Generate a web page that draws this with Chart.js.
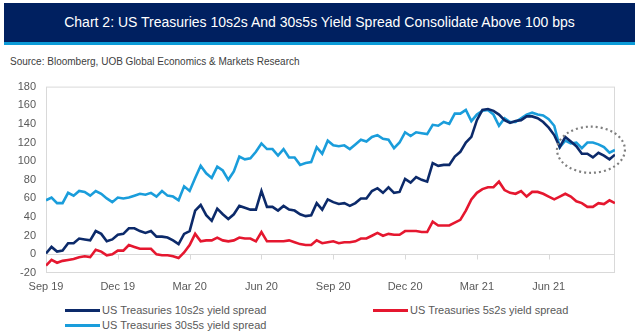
<!DOCTYPE html>
<html>
<head>
<meta charset="utf-8">
<script src="https://cdn.jsdelivr.net/npm/chart.js@4.4.0/dist/chart.umd.min.js"></script>
<style>
body { margin: 0; width: 639px; height: 335px; background: #fff; position: relative; overflow: hidden;
       font-family: 'Liberation Sans', Arial, sans-serif; }
#title { position: absolute; left: 4px; top: 3px; width: 631px; height: 39px; background: #002060;
         border-bottom: 3px solid #0b9bd8; color: #fff; font-size: 14px; line-height: 39px; text-align: center; }
#source { position: absolute; left: 10px; top: 56px; font-size: 10px; line-height: 12px; color: #404040; }
#wrap { position: absolute; left: 0; top: 70px; width: 639px; height: 230px; }
.item { position: absolute; font-size: 11px; line-height: 14px; color: #595959; white-space: nowrap; }
.item i { display: inline-block; width: 35px; height: 3px; vertical-align: middle; margin: -2px 2px 0 0; }
</style>
</head>
<body>
<div id="title">Chart 2: US Treasuries 10s2s And 30s5s Yield Spread Consolidate Above 100 bps</div>
<div id="source">Source: Bloomberg, UOB Global Economics &amp; Markets Research</div>
<div id="wrap"><canvas id="chart"></canvas></div>
<div id="legend"></div>
<script>
// weekly observations, Sep 2019 - Aug 2021 (bps)
const tickLabels = ['Sep 19', 'Dec 19', 'Mar 20', 'Jun 20', 'Sep 20', 'Dec 20', 'Mar 21', 'Jun 21'];
const tickWeeks = [0, 13, 26, 39, 52, 65, 78, 91];

const spread10s2s = [1, 8, 3, 4, 12, 12, 17, 16, 15, 25, 22, 14, 16, 21, 22, 28, 28, 25, 23, 25, 19, 19, 18, 15, 11, 22, 25,
    47, 53, 42, 36, 49, 43, 38, 43, 52, 50, 48, 48, 68, 51, 51, 47, 52, 48, 47, 43, 41, 42, 55, 48,
    59, 56, 54, 55, 52, 55, 60, 60, 68, 71, 66, 72, 66, 67, 81, 77, 83, 80, 78, 98, 95, 96, 96, 105, 110, 120, 126,
    144, 155, 156, 154, 150, 144, 141, 143, 144, 148, 148, 146, 142, 136, 128, 115, 126, 121, 116, 108, 108, 104, 109, 106, 102, 107];

const spread5s2s = [-12, -6, -9, -7, -6, -5, -3, -2, -3, 5, 3, -1, 0, 4, 4, 10, 8, 6, 6, 6, 0, -1, -1, -2, -4, 2, 10,
    22, 14, 15, 15, 18, 15, 14, 15, 18, 17, 17, 14, 24, 14, 14, 14, 14, 15, 13, 11, 10, 10, 15, 12,
    13, 14, 12, 13, 13, 14, 17, 17, 20, 23, 20, 22, 21, 21, 25, 25, 25, 24, 24, 35, 31, 31, 31, 34, 37, 47, 59,
    66, 70, 72, 72, 78, 69, 66, 65, 68, 62, 67, 67, 65, 62, 59, 62, 65, 62, 57, 55, 51, 51, 55, 54, 58, 55];

const spread30s5s = [58, 61, 55, 55, 66, 63, 68, 67, 63, 68, 65, 60, 56, 61, 60, 61, 63, 65, 64, 66, 62, 68, 63, 62, 58, 73, 68,
    82, 95, 87, 82, 94, 90, 80, 89, 105, 102, 103, 110, 119, 113, 113, 106, 113, 104, 104, 96, 98, 99, 115, 108,
    122, 117, 116, 117, 113, 118, 123, 121, 126, 128, 124, 123, 114, 120, 131, 127, 131, 130, 129, 139, 138, 142, 140, 151, 151, 155, 143,
    150, 154, 155, 150, 138, 146, 142, 142, 146, 150, 152, 150, 149, 145, 138, 115, 122, 119, 120, 114, 120, 120, 118, 115, 109, 112];

const FONT = "'Liberation Sans', Arial, sans-serif";

function toPoints(values) {
    return values.map((v, i) => ({x: i, y: v}));
}

const datasets = [
    {label: 'US Treasuries 10s2s yield spread', data: toPoints(spread10s2s), borderColor: '#0c2a6a'},
    {label: 'US Treasuries 5s2s yield spread', data: toPoints(spread5s2s), borderColor: '#e5172f'},
    {label: 'US Treasuries 30s5s yield spread', data: toPoints(spread30s5s), borderColor: '#1a9ddb'}
];
datasets.forEach(d => {
    d.borderWidth = 2.6;
    d.pointRadius = 0;
    d.tension = 0;
    d.fill = false;
});

// plot frame, zero line with its tick marks, dotted ring round the latest weeks
const framePlugin = {
    id: 'frame',
    beforeDatasetsDraw(chart) {
        const {ctx, chartArea: a, scales: {x, y}} = chart;
        ctx.save();
        ctx.strokeStyle = '#d9d9d9';
        ctx.lineWidth = 1;
        ctx.strokeRect(a.left + 0.5, a.top + 0.5, a.width - 1, a.height - 1);
        const y0 = Math.round(y.getPixelForValue(0)) + 0.5;
        ctx.beginPath();
        ctx.moveTo(a.left, y0);
        ctx.lineTo(a.right, y0);
        tickWeeks.forEach(w => {
            if (w === 0) return;
            const px = Math.round(x.getPixelForValue(w)) + 0.5;
            ctx.moveTo(px, y0);
            ctx.lineTo(px, y0 + 5);
        });
        ctx.stroke();
        ctx.restore();
    },
    afterDraw(chart, args, opts) {
        const {ctx, scales: {x, y}} = chart;
        const x1 = x.getPixelForValue(opts.weeks[0]), x2 = x.getPixelForValue(opts.weeks[1]);
        const y1 = y.getPixelForValue(opts.values[0]), y2 = y.getPixelForValue(opts.values[1]);
        ctx.save();
        ctx.strokeStyle = '#7f7f7f';
        ctx.lineWidth = 2.2;
        ctx.setLineDash([2, 3]);
        ctx.beginPath();
        ctx.ellipse((x1 + x2) / 2, (y1 + y2) / 2, Math.abs(x2 - x1) / 2, Math.abs(y2 - y1) / 2, 0, 0, Math.PI * 2);
        ctx.stroke();
        ctx.restore();
    }
};

new Chart(document.getElementById('chart'), {
    type: 'line',
    data: {datasets: datasets},
    plugins: [framePlugin],
    options: {
        responsive: true,
        maintainAspectRatio: false,
        animation: false,
        devicePixelRatio: 1,
        layout: {padding: {top: 14, right: 24, left: 0, bottom: 0}},
        plugins: {
            legend: {display: false},
            tooltip: {enabled: false},
            frame: {weeks: [92.5, 104.8], values: [87.5, 137]}
        },
        scales: {
            x: {
                type: 'linear',
                min: 0,
                max: spread10s2s.length - 1,
                grid: {display: false, drawTicks: false},
                border: {display: false},
                afterBuildTicks: s => { s.ticks = tickWeeks.map(w => ({value: w})); },
                afterFit: s => { s.height = 27; },
                ticks: {
                    autoSkip: false,
                    maxRotation: 0,
                    padding: 7,
                    color: '#595959',
                    font: {family: FONT, size: 11},
                    callback: v => tickLabels[tickWeeks.indexOf(v)]
                }
            },
            y: {
                min: -20,
                max: 180,
                grid: {display: false, drawTicks: false},
                border: {display: false},
                afterFit: s => { s.width = 46; },
                ticks: {
                    stepSize: 20,
                    padding: 10,
                    color: '#595959',
                    font: {family: FONT, size: 11}
                }
            }
        }
    }
});

// legend in two columns, like the source
const legendSpots = [[65, 303], [373, 303], [65, 318]];
const legend = document.getElementById('legend');
datasets.forEach((d, i) => {
    const el = document.createElement('div');
    el.className = 'item';
    el.style.left = legendSpots[i][0] + 'px';
    el.style.top = legendSpots[i][1] + 'px';
    el.innerHTML = '<i style="background:' + d.borderColor + '"></i>' + d.label;
    legend.appendChild(el);
});
</script>
</body>
</html>
